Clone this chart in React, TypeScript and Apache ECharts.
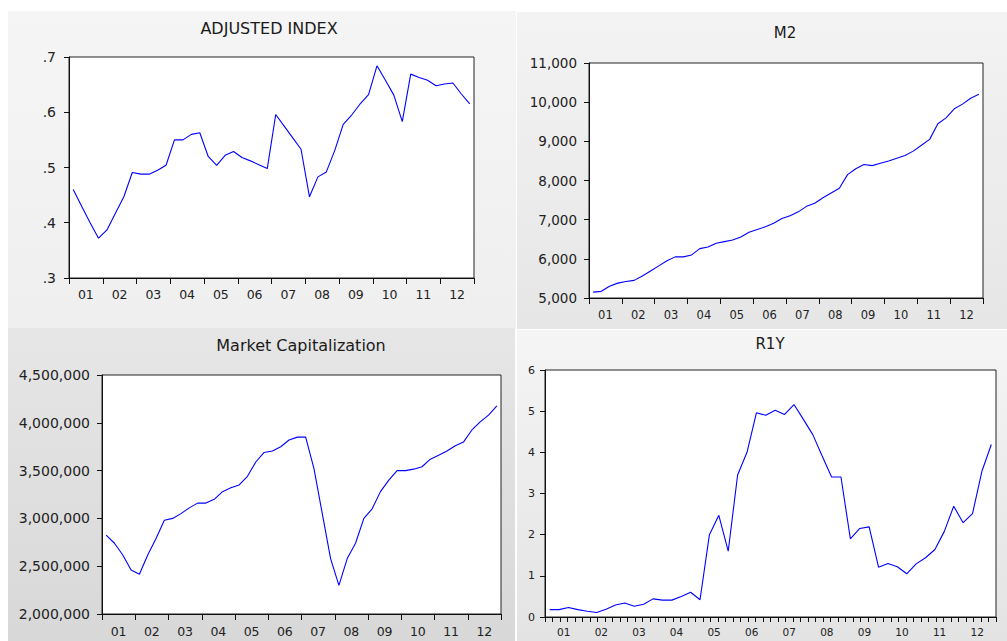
import { useEffect, useRef } from 'react';
import * as echarts from 'echarts';

// Quarterly observations 2001Q1 .. 2012Q4
const yearLabels = ['01', '02', '03', '04', '05', '06', '07', '08', '09', '10', '11', '12'];

const adjustedIndex = [
  0.46, 0.43, 0.40, 0.372, 0.387, 0.417, 0.447, 0.491, 0.488, 0.488, 0.495, 0.504,
  0.55, 0.55, 0.56, 0.563, 0.52, 0.504, 0.522, 0.529, 0.518, 0.512, 0.505, 0.498,
  0.596, 0.575, 0.554, 0.533, 0.447, 0.483, 0.492, 0.531, 0.578, 0.595, 0.615, 0.632,
  0.684, 0.658, 0.631, 0.583, 0.669, 0.663, 0.658, 0.648, 0.651, 0.653, 0.633, 0.615,
];

const m2 = [
  5150, 5170, 5300, 5380, 5420, 5450, 5560, 5690, 5820, 5950, 6050, 6050,
  6100, 6260, 6300, 6400, 6440, 6480, 6560, 6680, 6750, 6820, 6910, 7030,
  7100, 7200, 7340, 7420, 7560, 7680, 7800, 8150, 8300, 8410, 8380, 8440,
  8500, 8570, 8640, 8750, 8900, 9050, 9450, 9600, 9830, 9950, 10100, 10200,
];

const marketCap = [
  2826000, 2740000, 2617000, 2460000, 2415000, 2617000, 2790000, 2980000, 3000000, 3050000, 3110000, 3160000,
  3160000, 3200000, 3280000, 3320000, 3350000, 3440000, 3590000, 3690000, 3705000, 3750000, 3820000, 3850000,
  3850000, 3520000, 3050000, 2580000, 2300000, 2580000, 2740000, 3000000, 3100000, 3280000, 3400000, 3500000,
  3500000, 3515000, 3540000, 3620000, 3660000, 3705000, 3760000, 3800000, 3925000, 4010000, 4080000, 4176000,
];

const r1y = [
  0.18, 0.18, 0.23, 0.18, 0.14, 0.11, 0.19, 0.29, 0.34, 0.26, 0.31, 0.44,
  0.41, 0.41, 0.5, 0.6, 0.42, 2.0, 2.47, 1.6, 3.45, 4.0, 4.96, 4.9,
  5.02, 4.92, 5.16, 4.8, 4.43, 3.91, 3.4, 3.4, 1.9, 2.15, 2.19, 1.21,
  1.3, 1.22, 1.05, 1.29, 1.44, 1.64, 2.08, 2.69, 2.29, 2.51, 3.54, 4.19,
];

const withCommas = (v: number) => String(Math.round(v)).replace(/\B(?=(\d{3})+(?!\d))/g, ',');

const FONT = '"DejaVu Sans", Verdana, sans-serif';

const panels = [
  {
    title: 'ADJUSTED INDEX', data: adjustedIndex,
    bg: { x: 8, y: 11, w: 508, h: 317, c0: '#f5f5f5', c1: '#efefef' },
    grid: { left: 69, top: 57, width: 405, height: 221 },
    titlePos: [269, 28], titleSize: 16,
    y: { min: 0.3, max: 0.7, interval: 0.1, fmt: (v: number) => v.toFixed(1).replace(/^0/, '') },
    yFont: 14, xFont: 12.5, yMargin: 13, xMargin: 10, ticksPerYear: 1,
  },
  {
    title: 'M2', data: m2,
    bg: { x: 517, y: 12, w: 490, h: 317, c0: '#f3f3f3', c1: '#e6e6e6' },
    grid: { left: 589, top: 63, width: 394, height: 235 },
    titlePos: [785, 33], titleSize: 15,
    y: { min: 5000, max: 11000, interval: 1000, fmt: withCommas },
    yFont: 13.5, xFont: 11.5, yMargin: 12, xMargin: 11, ticksPerYear: 1,
  },
  {
    title: 'Market Capitalization', data: marketCap,
    bg: { x: 8, y: 328, w: 507, h: 313, c0: '#e6e6e6', c1: '#d8d8d8' },
    grid: { left: 102, top: 375, width: 399, height: 239 },
    titlePos: [301, 345], titleSize: 16,
    y: { min: 2000000, max: 4500000, interval: 500000, fmt: withCommas },
    yFont: 14, xFont: 12.5, yMargin: 12, xMargin: 11, ticksPerYear: 1,
  },
  {
    title: 'R1Y', data: r1y,
    bg: { x: 517, y: 330, w: 490, h: 311, c0: '#f5f5f5', c1: '#e3e3e3' },
    grid: { left: 545, top: 370, width: 451, height: 247 },
    titlePos: [770, 344], titleSize: 15,
    y: { min: 0, max: 6, interval: 1, fmt: (v: number) => String(v) },
    yFont: 11, xFont: 10.5, yMargin: 10, xMargin: 9, ticksPerYear: 5,
  },
];

export default function App() {
  const ref = useRef<HTMLDivElement>(null);

  useEffect(() => {
    if (!ref.current) return;
    const chart = echarts.init(ref.current, undefined, { renderer: 'svg' });

    const grids: any[] = [];
    const xAxes: any[] = [];
    const yAxes: any[] = [];
    const series: any[] = [];
    const graphics: any[] = [];
    const nQ = yearLabels.length * 4;

    panels.forEach((p, gi) => {
      graphics.push({
        type: 'rect', z: -100,
        shape: { x: p.bg.x, y: p.bg.y, width: p.bg.w, height: p.bg.h },
        style: {
          fill: new echarts.graphic.LinearGradient(0, 0, 0, 1, [
            { offset: 0, color: p.bg.c0 },
            { offset: 1, color: p.bg.c1 },
          ]),
        },
      });
      graphics.push({
        type: 'text', z: 10,
        x: p.titlePos[0], y: p.titlePos[1],
        style: {
          text: p.title, fill: '#1a1a1a',
          font: `${p.titleSize}px ${FONT}`,
          textAlign: 'center', align: 'center',
          textVerticalAlign: 'middle', verticalAlign: 'middle',
        },
      });

      grids.push({
        ...p.grid, show: true, backgroundColor: '#ffffff',
        borderColor: '#222222', borderWidth: 1,
      });

      // data axis (quarters)
      const dataAxisIndex = xAxes.length;
      xAxes.push({
        type: 'value', gridIndex: gi, position: 'bottom', min: 0, max: nQ,
        axisLine: { show: true, lineStyle: { color: '#111', width: 1 } },
        axisTick: { show: false }, axisLabel: { show: false }, splitLine: { show: false },
      });
      // tick axis
      const nTicks = yearLabels.length * p.ticksPerYear;
      xAxes.push({
        type: 'value', gridIndex: gi, position: 'bottom', min: 0, max: nTicks, interval: 1,
        axisLine: { show: false },
        axisTick: { show: true, length: p.ticksPerYear > 1 ? 5 : 6, lineStyle: { color: '#111', width: 1 } },
        axisLabel: { show: false }, splitLine: { show: false },
      });
      // label axis (year labels at mid-year)
      xAxes.push({
        type: 'value', gridIndex: gi, position: 'bottom', min: 0, max: yearLabels.length * 2, interval: 1,
        axisLine: { show: false }, axisTick: { show: false }, splitLine: { show: false },
        axisLabel: {
          show: true, margin: p.xMargin, fontFamily: FONT, fontSize: p.xFont, color: '#222',
          formatter: (v: number) => {
            const k = Math.round(v);
            return k % 2 === 1 ? yearLabels[(k - 1) / 2] : '';
          },
        },
      });

      yAxes.push({
        type: 'value', gridIndex: gi, min: p.y.min, max: p.y.max, interval: p.y.interval,
        axisLine: { show: true, lineStyle: { color: '#111', width: 1 } },
        axisTick: { show: true, length: 5, lineStyle: { color: '#111', width: 1 } },
        axisLabel: {
          show: true, margin: p.yMargin, fontFamily: FONT, fontSize: p.yFont, color: '#222',
          formatter: p.y.fmt,
        },
        splitLine: { show: false },
      });

      series.push({
        type: 'line', name: p.title,
        xAxisIndex: dataAxisIndex, yAxisIndex: gi,
        data: p.data.map((v, i) => [i + 0.5, v]),
        showSymbol: false, symbol: 'none',
        lineStyle: { color: '#0000ff', width: 1.1 },
        itemStyle: { color: '#0000ff' },
      });
    });

    chart.setOption({
      animation: false,
      backgroundColor: '#ffffff',
      grid: grids,
      xAxis: xAxes,
      yAxis: yAxes,
      series,
      graphic: graphics,
    });

    return () => chart.dispose();
  }, []);

  return (
    <div
      ref={ref}
      style={{ position: 'absolute', left: 0, top: 0, width: 1007, height: 641 }}
    />
  );
}
